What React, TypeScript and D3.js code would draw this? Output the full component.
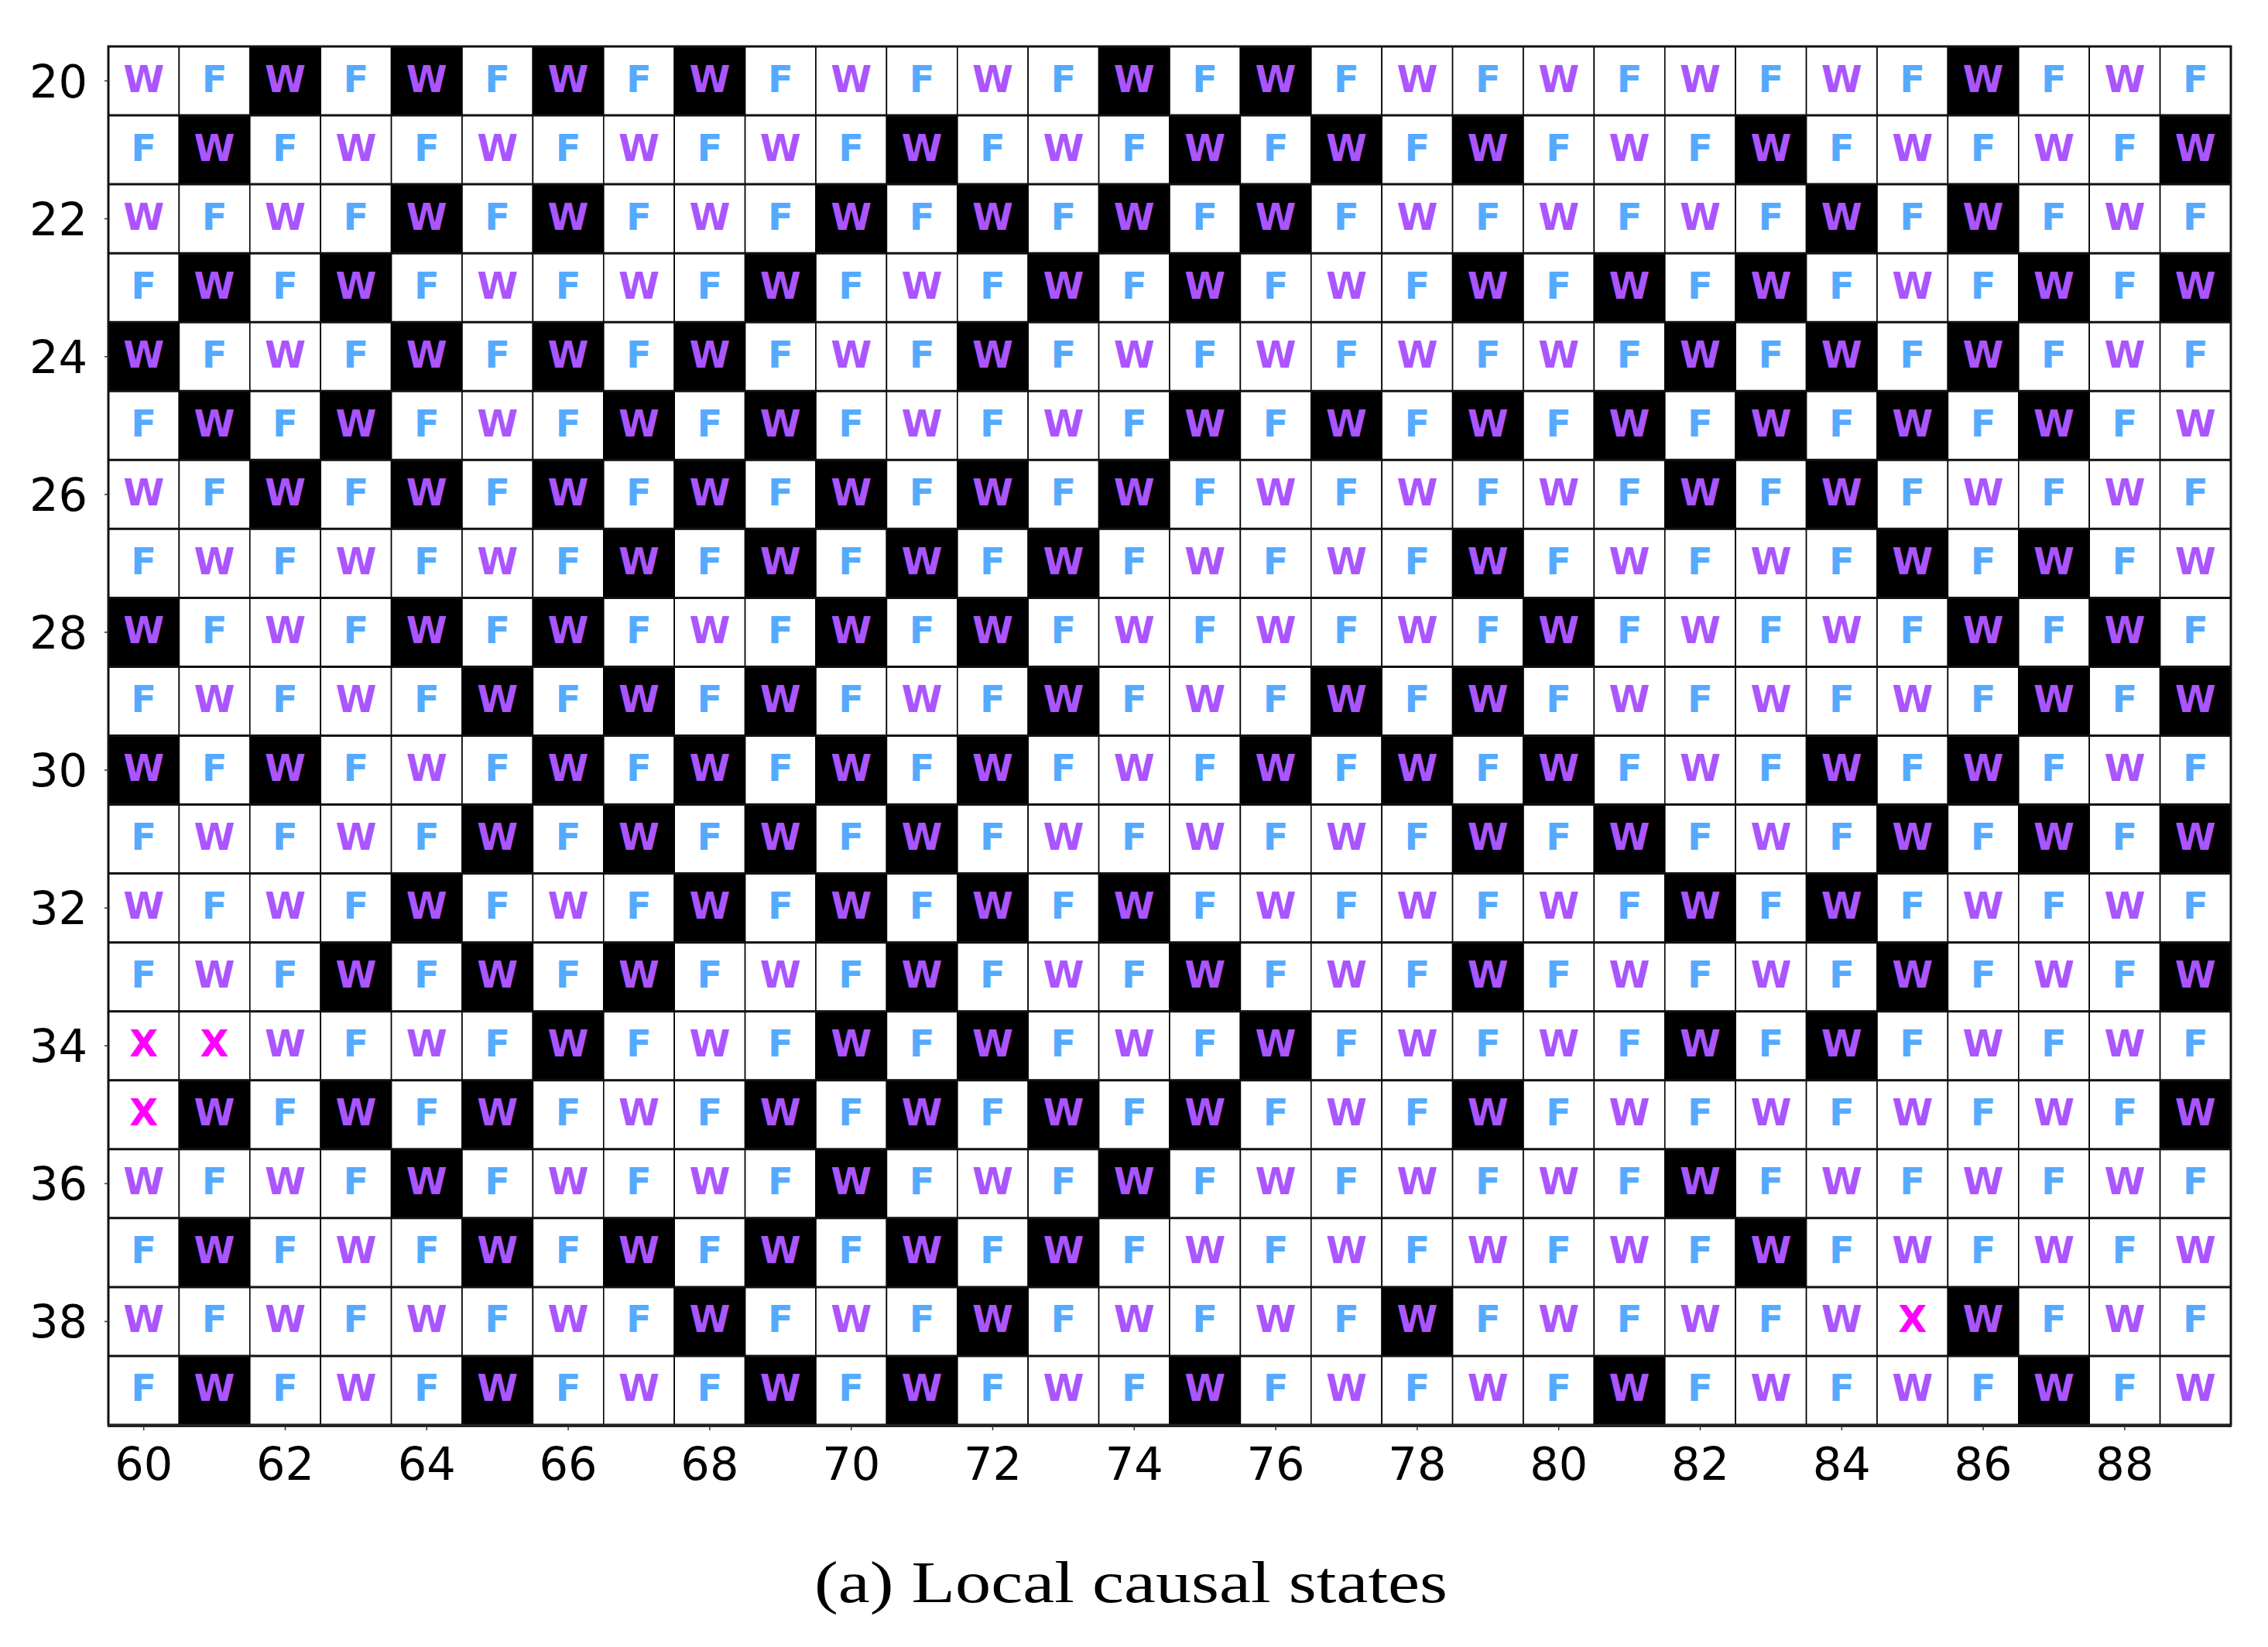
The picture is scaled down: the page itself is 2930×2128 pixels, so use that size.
import React from "react";
import * as d3 from "d3";

// Grid content: one string per row (rows 20..39), one char per column (60..89)
// W = wildcard state on white, B = W state on black cell, F = F state, X = defect
const rowsIdx = d3.range(20, 40);
const colsIdx = d3.range(60, 90);
const gridRows: string[] = [
  "WFBFBFBFBF" + "WFWFBFBFWF" + "WFWFWFBFWF", // 20
  "FBFWFWFWFW" + "FBFWFBFBFB" + "FWFBFWFWFB", // 21
  "WFWFBFBFWF" + "BFBFBFBFWF" + "WFWFBFBFWF", // 22
  "FBFBFWFWFB" + "FWFBFBFWFB" + "FBFBFWFBFB", // 23
  "BFWFBFBFBF" + "WFBFWFWFWF" + "WFBFBFBFWF", // 24
  "FBFBFWFBFB" + "FWFWFBFBFB" + "FBFBFBFBFW", // 25
  "WFBFBFBFBF" + "BFBFBFWFWF" + "WFBFBFWFWF", // 26
  "FWFWFWFBFB" + "FBFBFWFWFB" + "FWFWFBFBFW", // 27
  "BFWFBFBFWF" + "BFBFWFWFWF" + "BFWFWFBFBF", // 28
  "FWFWFBFBFB" + "FWFBFWFBFB" + "FWFWFWFBFB", // 29
  "BFBFWFBFBF" + "BFBFWFBFBF" + "BFWFBFBFWF", // 30
  "FWFWFBFBFB" + "FBFWFWFWFB" + "FBFWFBFBFB", // 31
  "WFWFBFWFBF" + "BFBFBFWFWF" + "WFBFBFWFWF", // 32
  "FWFBFBFBFW" + "FBFWFBFWFB" + "FWFWFBFWFB", // 33
  "XXWFWFBFWF" + "BFBFWFBFWF" + "WFBFBFWFWF", // 34
  "XBFBFBFWFB" + "FBFBFBFWFB" + "FWFWFWFWFB", // 35
  "WFWFBFWFWF" + "BFWFBFWFWF" + "WFBFWFWFWF", // 36
  "FBFWFBFBFB" + "FBFBFWFWFW" + "FWFBFWFWFW", // 37
  "WFWFWFWFBF" + "WFBFWFWFBF" + "WFWFWXBFWF", // 38
  "FBFWFBFWFB" + "FBFWFBFWFW" + "FBFWFWFBFW", // 39
];
const xTickValues = d3.range(60, 90, 2);
const yTickValues = d3.range(20, 40, 2);
const title = "(a) Local causal states";

const W = 2930;
const H = 2128;
const left = 140;
const right = 2882;
const top = 60;
const bottom = 1841;

export default function App() {
  const x = d3.scaleBand<number>().domain(colsIdx).range([left, right]).padding(0);
  const y = d3.scaleBand<number>().domain(rowsIdx).range([top, bottom]).padding(0);
  const bw = x.bandwidth();
  const bh = y.bandwidth();

  const color: Record<string, string> = { W: "#aa55ff", B: "#aa55ff", F: "#55aaff", X: "#ff00ff" };

  const cells: JSX.Element[] = [];
  const letters: JSX.Element[] = [];
  rowsIdx.forEach((r, ri) => {
    const s = gridRows[ri];
    colsIdx.forEach((c, ci) => {
      const ch = s[ci];
      const x0 = x(c)!;
      const y0 = y(r)!;
      cells.push(
        <rect key={`c${r}-${c}`} x={x0} y={y0} width={bw} height={bh}
          fill={ch === "B" ? "#000" : "#fff"} stroke="#000" strokeWidth={1.6} />
      );
      letters.push(
        <text key={`t${r}-${c}`} x={x0 + bw / 2} y={y0 + bh / 2 + 14}
          textAnchor="middle" fontFamily="DejaVu Sans" fontWeight="bold" fontSize={48}
          fill={color[ch]}>{ch === "B" ? "W" : ch}</text>
      );
    });
  });

  return (
    <svg width={W} height={H} style={{ position: "absolute", left: 0, top: 0, display: "block", background: "#fff" }}>
      <rect x={0} y={0} width={W} height={H} fill="#fff" />
      {cells}
      {/* horizontal row separators, slightly heavier */}
      {rowsIdx.slice(1).map((r) => (
        <line key={`h${r}`} x1={left} x2={right} y1={y(r)!} y2={y(r)!} stroke="#111" strokeWidth={3} />
      ))}
      {letters}
      {/* frame / spines */}
      <rect x={left} y={top} width={right - left} height={bottom - top} fill="none" stroke="#111" strokeWidth={3} />
      <line x1={left - 1} x2={right + 1} y1={bottom + 1} y2={bottom + 1} stroke="#222" strokeWidth={4} />
      {/* y ticks */}
      {yTickValues.map((v) => {
        const yc = y(v)! + bh / 2;
        return (
          <g key={`yt${v}`}>
            <line x1={left - 5} x2={left} y1={yc} y2={yc} stroke="#333" strokeWidth={1.5} />
            <text x={113} y={yc + 21} textAnchor="end" fontFamily="DejaVu Sans" fontSize={59} fill="#000">{v}</text>
          </g>
        );
      })}
      {/* x ticks */}
      {xTickValues.map((v) => {
        const xc = x(v)! + bw / 2;
        return (
          <g key={`xt${v}`}>
            <line x1={xc} x2={xc} y1={bottom + 2} y2={bottom + 7} stroke="#333" strokeWidth={1.5} />
            <text x={xc} y={1912} textAnchor="middle" fontFamily="DejaVu Sans" fontSize={59} fill="#000">{v}</text>
          </g>
        );
      })}
      <text x={1461} y={2070} textAnchor="middle" fontFamily="Liberation Serif" fontSize={76}
        textLength={818} lengthAdjust="spacingAndGlyphs" fill="#000">{title}</text>
    </svg>
  );
}
